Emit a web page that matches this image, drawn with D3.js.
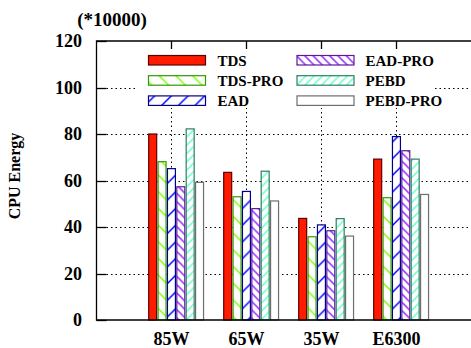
<!DOCTYPE html>
<html>
<head>
<meta charset="utf-8">
<script src="https://cdn.jsdelivr.net/npm/d3@7"></script>
<style>
  html, body { margin: 0; padding: 0; background: #fff; }
  svg { display: block; }
  text { font-family: "Liberation Serif", "Times New Roman", serif; font-weight: bold; fill: #000; }
</style>
</head>
<body>
<svg id="chart" width="471" height="348"></svg>
<script>
// Platforms on the x axis
const categories = ["85W", "65W", "35W", "E6300"];
// Scheduling schemes (legend order)
const seriesNames = ["TDS", "TDS-PRO", "EAD", "EAD-PRO", "PEBD", "PEBD-PRO"];
// CPU energy per platform, in units of 10000
const tds     = [80.0, 63.5, 43.7, 69.2];
const tdsPro  = [68.1, 53.0, 35.8, 52.6];
const ead     = [65.1, 55.3, 40.9, 78.9];
const eadPro  = [57.3, 47.9, 38.4, 72.8];
const pebd    = [82.2, 64.0, 43.6, 69.2];
const pebdPro = [59.2, 51.2, 36.1, 54.0];
const seriesValues = [tds, tdsPro, ead, eadPro, pebd, pebdPro];
const yTicks = [0, 20, 40, 60, 80, 100, 120];

// Fill styles: solid or hatched with a given direction and spacing
const styles = [
  { fill: "#ff1a00", stroke: "#5a0000", hatch: null },
  { fill: "#fff", stroke: "#2f9a00", hatch: { color: "#77ff00", dir: "back", step: 16.7 } },
  { fill: "#fff", stroke: "#000088", hatch: { color: "#0000ff", dir: "fwd", step: 16.7 } },
  { fill: "#fff", stroke: "#5c1a99", hatch: { color: "#9933ff", dir: "back", step: 8.3 } },
  { fill: "#fff", stroke: "#2e8060", hatch: { color: "#70ffcc", dir: "fwd", step: 8.3 } },
  { fill: "#fff", stroke: "#6e6e6e", hatch: null }
];

const svg = d3.select("#chart");
const L = 96.5, R = 471.5, T = 41, B = 320;

const x = d3.scaleLinear().domain([-1, 4]).range([L, R]);
const y = d3.scaleLinear().domain([0, 120]).range([B, T]);
const inner = d3.scaleBand().domain(seriesNames)
  .range([-22.8, -22.8 + 9.375 * 5.85]).paddingInner(0.15).paddingOuter(0);

// Hatch patterns
const defs = svg.append("defs");
styles.forEach((s, i) => {
  if (!s.hatch) return;
  const st = s.hatch.step;
  const p = defs.append("pattern").attr("id", "hatch" + i)
    .attr("patternUnits", "userSpaceOnUse").attr("width", st).attr("height", st);
  p.append("rect").attr("width", st).attr("height", st).attr("fill", "#fff");
  const segs = s.hatch.dir === "fwd"
    ? [[0, st, st, 0], [-st, st, st, -st], [0, 2 * st, 2 * st, 0]]
    : [[0, 0, st, st], [-st, 0, st, 2 * st], [0, -st, 2 * st, st]];
  segs.forEach(g => p.append("line")
    .attr("x1", g[0]).attr("y1", g[1]).attr("x2", g[2]).attr("y2", g[3])
    .attr("stroke", s.hatch.color).attr("stroke-width", 1.5));
});
const fillOf = i => styles[i].hatch ? `url(#hatch${i})` : styles[i].fill;

// Dotted grid
const grid = svg.append("g").attr("stroke", "#000").attr("stroke-width", 1)
  .attr("stroke-dasharray", "1.5,3");
yTicks.filter(v => v > 0 && v < 120).forEach(v => {
  grid.append("line").attr("x1", L + 10).attr("x2", R)
    .attr("y1", Math.round(y(v)) + 0.5).attr("y2", Math.round(y(v)) + 0.5);
});
categories.forEach((c, i) => {
  grid.append("line").attr("x1", x(i)).attr("x2", x(i)).attr("y1", T + 8).attr("y2", B);
});

// Bars
const barsG = svg.append("g");
categories.forEach((c, ci) => {
  seriesNames.forEach((sname, si) => {
    const v = seriesValues[si][ci];
    barsG.append("rect")
      .attr("x", x(ci) + inner(sname))
      .attr("y", y(v))
      .attr("width", inner.bandwidth())
      .attr("height", B - y(v))
      .attr("fill", fillOf(si))
      .attr("stroke", styles[si].stroke)
      .attr("stroke-width", 1.2);
  });
});

// Legend, on a white box that hides the grid behind it
const lg = svg.append("g");
lg.append("rect").attr("x", 137).attr("y", 49).attr("width", 296).attr("height", 59).attr("fill", "#fff");
seriesNames.forEach((sname, si) => {
  const col = Math.floor(si / 3), row = si % 3;
  const sx = col === 0 ? 148.5 : 297;
  const sy = 55.5 + row * 20.2;
  lg.append("rect").attr("x", sx).attr("y", sy).attr("width", 57).attr("height", 9.5)
    .attr("fill", fillOf(si)).attr("stroke", styles[si].stroke).attr("stroke-width", 1.2);
  lg.append("text").attr("x", col === 0 ? 217.5 : 365.5).attr("y", sy + 10.5)
    .attr("font-size", 15).text(sname);
});

// Frame and ticks
const frame = svg.append("g").attr("stroke", "#000").attr("stroke-width", 1.3).attr("fill", "none");
frame.append("path").attr("d", `M${R},${T}H${L}V${B}H${R}`);
yTicks.forEach(v => {
  const yy = Math.round(y(v)) + 0.5;
  frame.append("line").attr("x1", L).attr("x2", L + 10).attr("y1", yy).attr("y2", yy);
});
categories.forEach((c, i) => {
  frame.append("line").attr("x1", x(i)).attr("x2", x(i)).attr("y1", T).attr("y2", T + 8);
});

// Tick labels
svg.append("g").selectAll("text").data(yTicks).join("text")
  .attr("x", 82).attr("y", d => y(d)).attr("dy", "0.35em")
  .attr("text-anchor", "end").attr("font-size", 18).text(d => d);
svg.append("g").selectAll("text").data(categories).join("text")
  .attr("x", (d, i) => x(i)).attr("y", 345)
  .attr("text-anchor", "middle").attr("font-size", 18).text(d => d);

// Axis title and scale note
svg.append("text").attr("transform", "translate(20,176) rotate(-90)")
  .attr("text-anchor", "middle").attr("font-size", 16).text("CPU Energy");
svg.append("text").attr("x", 112).attr("y", 26).attr("text-anchor", "middle")
  .attr("font-size", 19).text("(*10000)");
</script>
</body>
</html>
